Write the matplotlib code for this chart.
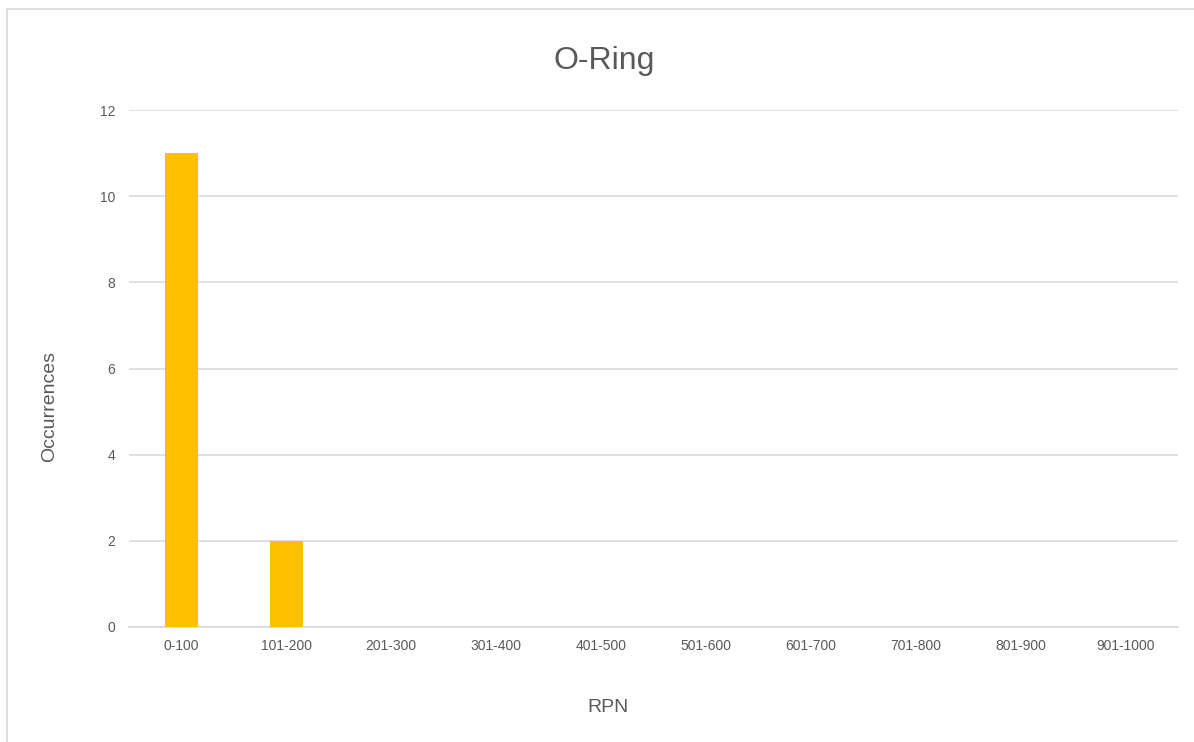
import numpy as np
import matplotlib.pyplot as plt
from matplotlib.lines import Line2D

categories = ['0-100', '101-200', '201-300', '301-400', '401-500',
              '501-600', '601-700', '701-800', '801-900', '901-1000']
occurrences = [11, 2, 0, 0, 0, 0, 0, 0, 0, 0]
yticks = [0, 2, 4, 6, 8, 10, 12]

plt.rcParams['font.family'] = ['Liberation Sans', 'DejaVu Sans']
text_color = '#595959'
grid_color = '#D9D9D9'

W, H = 1194, 742
fig = plt.figure(figsize=(W / 100, H / 100), dpi=100)
fig.patch.set_facecolor('white')

# chart frame (only top and left edges visible)
fig.add_artist(Line2D([7 / W, 7 / W], [0, 1 - 9 / H], transform=fig.transFigure,
                      color=grid_color, lw=1.2))
fig.add_artist(Line2D([7 / W, 1], [1 - 9 / H, 1 - 9 / H], transform=fig.transFigure,
                      color=grid_color, lw=1.2))

ax = fig.add_axes([129 / W, 1 - 627 / H, (1178 - 129) / W, (627 - 110) / H])
x = np.arange(len(categories))
ax.bar(x, occurrences, width=0.32, color='#FFC000', zorder=3)

ax.set_xlim(-0.5, len(categories) - 0.5)
ax.set_ylim(0, 12)
ax.set_yticks(yticks)
ax.set_xticks(x)
ax.set_xticklabels(categories)
ax.yaxis.grid(True, color=grid_color, lw=1.2, zorder=0)
ax.set_axisbelow(True)
for s in ['top', 'right', 'left']:
    ax.spines[s].set_visible(False)
ax.spines['bottom'].set_color(grid_color)
ax.spines['bottom'].set_linewidth(1.2)
ax.tick_params(axis='both', length=0, labelsize=10, labelcolor=text_color)
ax.tick_params(axis='x', pad=9)
ax.tick_params(axis='y', pad=10)

fig.text(604 / W, 1 - 61 / H, 'O-Ring', ha='center', va='center',
         fontsize=23, color=text_color)
fig.text(50 / W, 1 - 406 / H, 'Occurrences', ha='center', va='center',
         rotation=90, fontsize=14, color=text_color)
fig.text(608 / W, 1 - 708 / H, 'RPN', ha='center', va='center',
         fontsize=14, color=text_color)

fig.savefig('out.png', dpi=100)
